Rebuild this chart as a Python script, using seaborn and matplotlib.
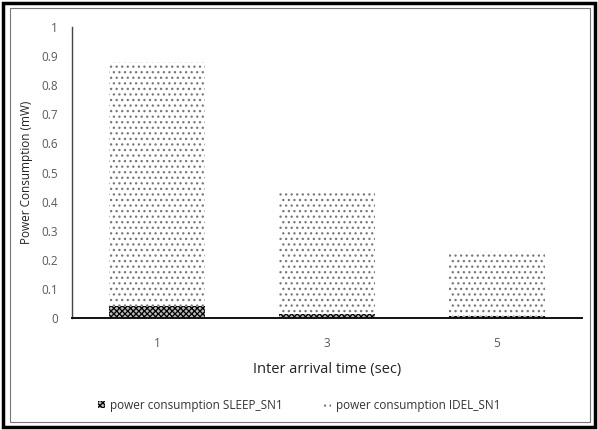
import pandas as pd
import matplotlib.pyplot as plt
import seaborn as sns
from matplotlib.patches import Rectangle, Patch

sns.set_style("white")
plt.rcParams['font.family'] = ['Open Sans', 'DejaVu Sans']
plt.rcParams['hatch.linewidth'] = 0.9

arrival = ['1', '3', '5']
sleep_sn1 = [0.04, 0.015, 0.008]
idel_sn1 = [0.84, 0.415, 0.222]
yticks = [0, 0.1, 0.2, 0.3, 0.4, 0.5, 0.6, 0.7, 0.8, 0.9, 1]
ytick_labels = ['0', '0.1', '0.2', '0.3', '0.4', '0.5', '0.6', '0.7', '0.8', '0.9', '1']

df = pd.DataFrame({'arrival': arrival, 'sleep': sleep_sn1, 'idel': idel_sn1})
df['total'] = df['sleep'] + df['idel']

fig = plt.figure(figsize=(5.98, 4.30), dpi=100)
ax = fig.add_axes([72 / 598, 1 - 318 / 430, 510 / 598, 291 / 430])

# idle stacked on top of sleep: draw the total first, then sleep over it
sns.barplot(data=df, x='arrival', y='total', ax=ax, color='white',
            edgecolor='#777777', hatch='...', linewidth=0, width=0.565)
sns.barplot(data=df, x='arrival', y='sleep', ax=ax, color='#bbbbbb',
            edgecolor='#000000', hatch='xxxxxx', linewidth=0, width=0.565)

ax.set_ylim(0, 1)
ax.set_yticks(yticks)
ax.set_yticklabels(ytick_labels)
ax.tick_params(axis='both', length=0, colors='#595959', labelsize=8.5)
ax.tick_params(axis='x', pad=14)
ax.tick_params(axis='y', pad=10)
for s in ['top', 'right']:
    ax.spines[s].set_visible(False)
ax.spines['left'].set_color('#444444')
ax.spines['bottom'].set_color('#111111')
ax.spines['left'].set_linewidth(1.0)
ax.spines['bottom'].set_linewidth(1.4)

ax.set_xlabel('Inter arrival time (sec)', fontsize=10.5, color='#222222', labelpad=8)
ax.set_ylabel('Power Consumption (mW)', fontsize=8.5, color='#222222', labelpad=6)

handles = [
    Patch(facecolor='#bbbbbb', edgecolor='#000000', hatch='xxxxxx', linewidth=0),
    Patch(facecolor='white', edgecolor='#777777', hatch='...', linewidth=0),
]
fig.legend(handles, ['power consumption SLEEP_SN1', 'power consumption IDEL_SN1'],
           loc='center', bbox_to_anchor=(0.5, 1 - 405 / 430), ncol=2, frameon=False,
           fontsize=8.5, handlelength=0.6, handleheight=0.6, columnspacing=3.5,
           handletextpad=0.4, labelcolor='#333333')

# chart border (double frame)
fig.patches.append(Rectangle((3 / 598, 3 / 430), 592 / 598, 424 / 430, transform=fig.transFigure,
                             fill=False, edgecolor='black', linewidth=2.5))
fig.patches.append(Rectangle((10 / 598, 8 / 430), 580 / 598, 414 / 430, transform=fig.transFigure,
                             fill=False, edgecolor='#777777', linewidth=0.8))

fig.savefig('out.png', dpi=100)
